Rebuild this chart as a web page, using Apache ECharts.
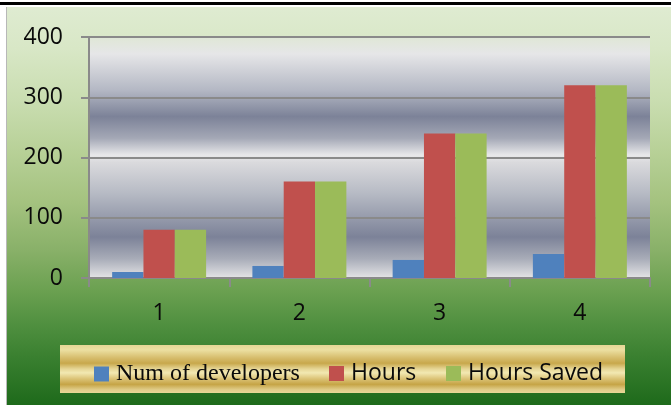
<!DOCTYPE html>
<html>
<head>
<meta charset="utf-8">
<script src="https://cdn.jsdelivr.net/npm/echarts@6/dist/echarts.min.js"></script>
<style>html,body{margin:0;padding:0;background:#fff}#c{width:671px;height:405px}</style>
</head>
<body>
<div id="c"></div>
<script>
var categories = ['1', '2', '3', '4'];
var seriesNames = ['Num of developers', 'Hours', 'Hours Saved'];
var developers = [10, 20, 30, 40];
var hours = [80, 160, 240, 320];
var hoursSaved = [80, 160, 240, 320];
var yTicks = { min: 0, max: 400, interval: 100 };

var LG = echarts.graphic.LinearGradient;
var chart = echarts.init(document.getElementById('c'), null, { renderer: 'canvas' });

var bgGrad = new LG(0, 0, 0, 1, [
  { offset: 0, color: '#e0ecd3' },
  { offset: 0.12, color: '#d8e7c6' },
  { offset: 0.25, color: '#c9ddb0' },
  { offset: 0.37, color: '#b8d198' },
  { offset: 0.5, color: '#a4c27f' },
  { offset: 0.62, color: '#88b068' },
  { offset: 0.72, color: '#6aa050' },
  { offset: 0.8, color: '#509040' },
  { offset: 0.88, color: '#3a8030' },
  { offset: 1, color: '#1e6a1b' }
]);

var plotGrad = new LG(0, 0, 0, 1, [
  { offset: 0, color: '#dfe7d6' },
  { offset: 0.07, color: '#e6e6e8' },
  { offset: 0.22, color: '#b4b8c4' },
  { offset: 0.33, color: '#7c8298' },
  { offset: 0.42, color: '#a4a8b6' },
  { offset: 0.49, color: '#e8e8ea' },
  { offset: 0.52, color: '#dadadd' },
  { offset: 0.65, color: '#b6bac4' },
  { offset: 0.83, color: '#7c8298' },
  { offset: 0.92, color: '#a8acb8' },
  { offset: 1, color: '#e4e4e6' }
]);

var goldGrad = new LG(0, 0, 0, 1, [
  { offset: 0, color: '#e6d696' },
  { offset: 0.1, color: '#ece0a2' },
  { offset: 0.27, color: '#d6bc6c' },
  { offset: 0.38, color: '#c8a84c' },
  { offset: 0.5, color: '#e6d696' },
  { offset: 0.58, color: '#f2e8b2' },
  { offset: 0.7, color: '#dcc478' },
  { offset: 0.82, color: '#c6a446' },
  { offset: 0.93, color: '#e0cc88' },
  { offset: 1, color: '#e8d896' }
]);

var axisGray = '#8a8a8a';
var lblFont = '"Open Sans", Lato, sans-serif';
var txt = '#0a0a0a';

function legendItem(name, left, rich) {
  return {
    data: [name], left: left, top: 362, padding: 0,
    itemWidth: 15, itemHeight: 15, icon: 'rect',
    formatter: function (n) { return '{' + rich + '|' + n + '}'; },
    textStyle: {
      padding: [0, 0, 0, 2],
      rich: {
        s: { fontFamily: '"Liberation Serif", serif', fontSize: 24, color: txt, lineHeight: 15 },
        n: { fontFamily: lblFont, fontSize: 23, color: txt, lineHeight: 15 }
      }
    }
  };
}

chart.setOption({
  backgroundColor: bgGrad,
  animation: false,
  color: ['#4f81bd', '#c0504d', '#9bbb59'],
  graphic: [
    { type: 'rect', shape: { x: 60, y: 345, width: 565, height: 48 }, style: { fill: goldGrad }, z: 1 },
    { type: 'rect', shape: { x: 0, y: 0, width: 671, height: 7 }, style: { fill: '#ffffff' }, z: 50 },
    { type: 'rect', shape: { x: 0, y: 0, width: 6, height: 405 }, style: { fill: '#ffffff' }, z: 50 },
    { type: 'line', shape: { x1: 6.5, y1: 7, x2: 6.5, y2: 405 }, style: { stroke: '#b8b8b8', lineWidth: 1 }, z: 51 },
    { type: 'line', shape: { x1: 0, y1: 3.5, x2: 671, y2: 3.5 }, style: { stroke: '#000', lineWidth: 3 }, z: 51 }
  ],
  legend: [
    legendItem(seriesNames[0], 94, 's'),
    legendItem(seriesNames[1], 329, 'n'),
    legendItem(seriesNames[2], 446, 'n')
  ],
  grid: {
    left: 89, right: 21, top: 37, bottom: 127,
    show: true, backgroundColor: plotGrad, borderWidth: 0, containLabel: false
  },
  xAxis: {
    type: 'category', data: categories,
    axisLine: { lineStyle: { color: axisGray, width: 2 } },
    axisTick: { show: true, length: 9, lineStyle: { color: axisGray, width: 2 } },
    axisLabel: { margin: 24, fontFamily: lblFont, fontSize: 23, color: txt }
  },
  yAxis: {
    type: 'value', min: yTicks.min, max: yTicks.max, interval: yTicks.interval,
    axisLine: { show: true, lineStyle: { color: axisGray, width: 2 } },
    axisTick: { show: true, length: 8, lineStyle: { color: axisGray, width: 2 } },
    splitLine: { lineStyle: { color: axisGray, width: 2 } },
    axisLabel: { margin: 26, fontFamily: lblFont, fontSize: 23, color: txt }
  },
  series: [
    { name: seriesNames[0], type: 'bar', data: developers, barGap: '0%', barCategoryGap: '33%' },
    { name: seriesNames[1], type: 'bar', data: hours, barGap: '0%', barCategoryGap: '33%' },
    { name: seriesNames[2], type: 'bar', data: hoursSaved, barGap: '0%', barCategoryGap: '33%' }
  ]
});
</script>
</body>
</html>
